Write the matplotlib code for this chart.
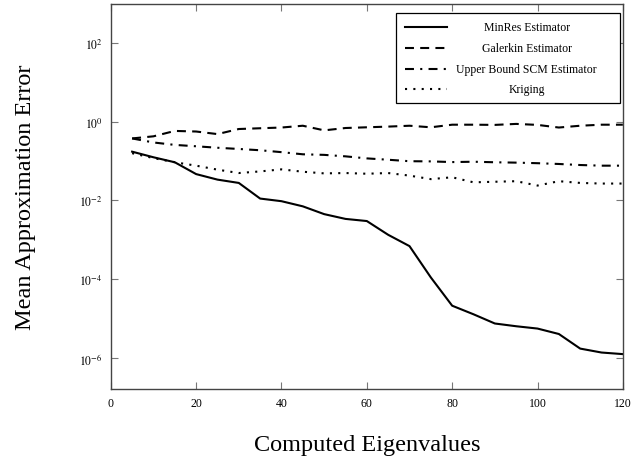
import math
import matplotlib
matplotlib.use('Agg')
from matplotlib import pyplot as plt
from matplotlib.ticker import FuncFormatter

# number of computed eigenvalues
eigs = [5, 10, 15, 20, 25, 30, 35, 40, 45, 50, 55, 60,
        65, 70, 75, 80, 85, 90, 95, 100, 105, 110, 115, 120]

# mean approximation errors per estimator
minres = [0.175, 0.126, 0.094, 0.047, 0.034, 0.028, 0.0112, 0.0096,
          0.0071, 0.0045, 0.0034, 0.0030, 0.00134, 0.00069, 1.1e-4, 2.1e-5,
          1.27e-5, 7.4e-6, 6.3e-6, 5.5e-6, 4.0e-6, 1.7e-6, 1.35e-6, 1.23e-6]
galerkin = [0.38, 0.43, 0.59, 0.57, 0.49, 0.66, 0.69, 0.72,
            0.80, 0.61, 0.70, 0.73, 0.76, 0.80, 0.73, 0.85,
            0.85, 0.84, 0.89, 0.84, 0.72, 0.80, 0.85, 0.85]
scm = [0.38, 0.30, 0.26, 0.24, 0.22, 0.205, 0.19, 0.17,
       0.15, 0.145, 0.133, 0.118, 0.109, 0.10, 0.099, 0.095,
       0.097, 0.094, 0.092, 0.089, 0.085, 0.080, 0.077, 0.077]
kriging = [0.16, 0.12, 0.094, 0.077, 0.061, 0.050, 0.055, 0.062,
           0.054, 0.049, 0.050, 0.048, 0.050, 0.043, 0.035, 0.039,
           0.029, 0.030, 0.031, 0.024, 0.031, 0.028, 0.027, 0.027]

labels = ['MinRes Estimator', 'Galerkin Estimator',
          'Upper Bound SCM Estimator', 'Kriging']
styles = ['-', (0, (4.3, 3)), (0, (4.3, 3, 1, 3)), (0, (1, 3))]

plt.rcParams['font.family'] = ['Liberation Serif', 'DejaVu Serif']
plt.rcParams['mathtext.fontset'] = 'stix'

fig = plt.figure(figsize=(6.33, 4.6), dpi=100)
ax = fig.add_axes([0.175, 0.152, 0.809, 0.837])

series = [minres, galerkin, scm, kriging]
for vals, ls in zip(series, styles):
    ax.plot(eigs, vals, color='black', linestyle=ls, linewidth=1.5)

ax.set_yscale('log')
ax.set_xlim(0, 120)
ax.set_ylim(10 ** -6.8, 10 ** 3)
ax.set_xticks([0, 20, 40, 60, 80, 100, 120])
ax.set_yticks([1e-6, 1e-4, 1e-2, 1e0, 1e2])
ax.yaxis.set_major_formatter(FuncFormatter(
    lambda v, p: r'$10^{%d}$' % round(math.log10(v))))
ax.minorticks_off()
ax.tick_params(direction='in', top=True, right=True, length=5,
               width=0.8, color='#777777', labelsize=8.5, pad=6)
for sp in ax.spines.values():
    sp.set_color('#444444')
    sp.set_linewidth(1.0)

ax.set_xlabel('Computed Eigenvalues', fontsize=17.5, labelpad=18)
ax.set_ylabel('Mean Approximation Error', fontsize=17.5, labelpad=31)

# legend drawn by hand so the entries sit centred like the original
ax.add_patch(plt.Rectangle((0.557, 0.743), 0.437, 0.234, transform=ax.transAxes,
                           fill=True, facecolor='white', edgecolor='black',
                           linewidth=0.9, zorder=5))
rows = [0.940, 0.886, 0.831, 0.779]
for lab, ls, yr in zip(labels, styles, rows):
    ax.plot([0.574, 0.656], [yr, yr], transform=ax.transAxes, color='black',
            linestyle=ls, linewidth=1.5, zorder=6)
    ax.text(0.812, yr, lab, transform=ax.transAxes, ha='center', va='center',
            fontsize=8.5, zorder=6)

plt.savefig('out.png', dpi=100)
